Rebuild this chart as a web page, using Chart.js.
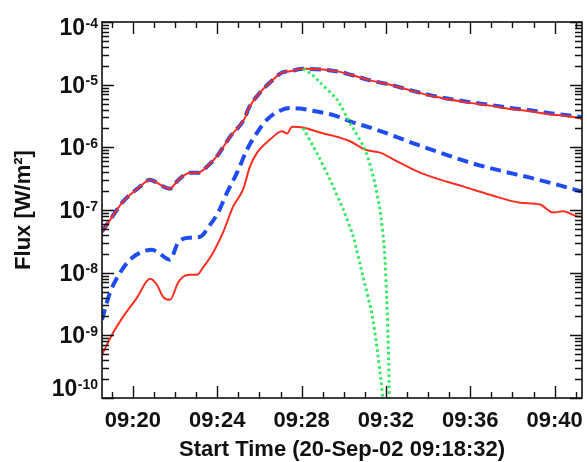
<!DOCTYPE html>
<html>
<head>
<meta charset="utf-8">
<title>Flux</title>
<script src="https://cdn.jsdelivr.net/npm/chart.js@4.4.1/dist/chart.umd.min.js"></script>
<style>
  html, body { margin: 0; padding: 0; background: #ffffff; }
  #c { display: block; }
</style>
</head>
<body>
<canvas id="c" width="587" height="462"></canvas>
<script>
// Time in minutes after 09:00 UT, flux in W/m^2.

// 1-8 A channel, observed
const tLongObs = [18.53, 18.91, 19.53, 20.34, 20.81, 20.95, 21.76, 22.04, 22.33, 22.71, 23.09, 23.51, 24.04, 24.61, 25.32, 25.46, 26.03, 26.50, 27.07, 27.45, 28.07, 29.02, 29.82, 30.30, 31.25, 32.20, 33.14, 34.09, 35.04, 35.99, 36.94, 37.89, 38.84, 39.79, 40.40, 41.30];
const fLongObs = [4.5e-8, 6.9e-8, 1.36e-7, 2.36e-7, 3.05e-7, 2.94e-7, 2.19e-7, 2.73e-7, 3.4e-7, 3.94e-7, 3.94e-7, 4.92e-7, 7.64e-7, 1.48e-6, 2.98e-6, 4.0e-6, 7.48e-6, 1.08e-5, 1.56e-5, 1.64e-5, 1.79e-5, 1.74e-5, 1.60e-5, 1.45e-5, 1.17e-5, 1.00e-5, 8.14e-6, 6.70e-6, 5.78e-6, 5.12e-6, 4.63e-6, 4.10e-6, 3.76e-6, 3.33e-6, 3.21e-6, 2.87e-6];

// 1-8 A channel, model
const tLongMod = [18.53, 18.91, 19.53, 20.34, 20.81, 20.95, 21.76, 22.04, 22.33, 22.71, 23.09, 23.51, 24.04, 24.61, 25.32, 25.46, 26.03, 26.50, 27.07, 27.45, 28.07, 29.02, 29.82, 30.30, 31.25, 32.20, 33.14, 34.09, 35.04, 35.99, 36.94, 37.89, 38.84, 39.79, 40.40, 41.30];
const fLongMod = [4.5e-8, 6.9e-8, 1.36e-7, 2.36e-7, 3.05e-7, 2.94e-7, 2.19e-7, 2.73e-7, 3.4e-7, 3.94e-7, 3.94e-7, 4.92e-7, 7.64e-7, 1.48e-6, 2.98e-6, 4.0e-6, 7.48e-6, 1.08e-5, 1.56e-5, 1.64e-5, 1.79e-5, 1.74e-5, 1.60e-5, 1.45e-5, 1.17e-5, 1.00e-5, 8.2e-6, 6.8e-6, 5.9e-6, 5.25e-6, 4.75e-6, 4.25e-6, 3.9e-6, 3.5e-6, 3.32e-6, 3.02e-6];

// 0.5-4 A channel, observed
const tShortObs = [18.53, 19.06, 19.53, 20.19, 20.81, 21.14, 21.43, 21.76, 22.14, 22.38, 22.71, 23.04, 23.32, 23.80, 24.27, 24.75, 25.22, 25.55, 25.89, 26.50, 27.07, 27.31, 27.55, 28.07, 28.88, 29.82, 30.30, 31.01, 31.72, 32.53, 33.48, 34.57, 35.66, 36.94, 38.36, 39.31, 39.93, 40.40, 41.07, 41.30];
const fShortObs = [4.88e-10, 1.10e-9, 1.97e-9, 3.97e-9, 8.0e-9, 6.41e-9, 4.12e-9, 3.69e-9, 6.90e-9, 8.61e-9, 9.25e-9, 9.25e-9, 1.20e-8, 2.08e-8, 4.34e-8, 1.13e-7, 2.11e-7, 4.92e-7, 8.22e-7, 1.33e-6, 1.80e-6, 1.66e-6, 2.14e-6, 2.07e-6, 1.72e-6, 1.43e-6, 1.25e-6, 9.19e-7, 8.22e-7, 5.97e-7, 4.14e-7, 3.05e-7, 2.38e-7, 1.75e-7, 1.31e-7, 1.22e-7, 9.16e-8, 9.51e-8, 7.91e-8, 7.82e-8];

// 0.5-4 A channel, model
const tShortMod = [18.53, 18.91, 19.39, 19.86, 20.34, 20.91, 21.14, 21.76, 22.14, 22.71, 23.18, 23.66, 24.04, 24.46, 24.94, 25.41, 25.89, 26.36, 26.88, 27.45, 27.93, 28.73, 29.59, 30.30, 31.25, 32.20, 33.48, 34.57, 35.99, 37.56, 38.84, 40.12, 41.30];
const fShortMod = [1.77e-9, 4.77e-9, 9.96e-9, 1.61e-8, 2.08e-8, 2.32e-8, 2.16e-8, 1.61e-8, 3.01e-8, 3.61e-8, 3.74e-8, 5.82e-8, 9.05e-8, 1.89e-7, 3.94e-7, 9.19e-7, 1.72e-6, 2.77e-6, 3.72e-6, 4.26e-6, 4.15e-6, 3.72e-6, 3.21e-6, 2.60e-6, 2.06e-6, 1.60e-6, 1.10e-6, 8.22e-7, 5.70e-7, 4.14e-7, 3.28e-7, 2.54e-7, 1.96e-7];

// Decay fits from the peak
const tLongDecay = [28.07, 28.50, 28.88, 29.68, 30.30, 31.01, 31.40, 31.72, 31.93, 32.04, 32.12, 32.16, 32.18];
const fLongDecay = [1.79e-5, 1.45e-5, 1.08e-5, 5.78e-6, 2.45e-6, 9.19e-7, 3.44e-7, 1.01e-7, 2.32e-8, 3.69e-9, 5.86e-10, 1.04e-10, 5e-11];
const tShortDecay = [28.07, 28.72, 29.35, 29.98, 30.45, 30.91, 31.33, 31.57, 31.76, 31.85, 31.87];
const fShortDecay = [2.04e-6, 8.15e-7, 3.05e-7, 1.01e-7, 3.79e-8, 8.69e-9, 2.26e-9, 6.62e-10, 1.95e-10, 1.0e-10, 5e-11];

// Axis range and tick labels
const xStart = 18 + 32 / 60;   // 09:18:32
const xEnd = 41.3;
const xMajorTicks = [20, 24, 28, 32, 36, 40];
const xTickLabels = ['09:20', '09:24', '09:28', '09:32', '09:36', '09:40'];
const yDecades = [-4, -5, -6, -7, -8, -9, -10];
const yMin = 1e-10, yMax = 1e-4;

const toPts = (ts, fs) => ts.map((t, i) => ({ x: t, y: fs[i] }));

const RED = '#ff2d1f';
const BLUE = '#1f4cf5';
const GREEN = '#33ea63';
const LABEL_FONT = '"Liberation Sans", Arial, Helvetica, sans-serif';

// Box, inward ticks on all four sides and tick labels with exponents
const frame = {
  id: 'frame',
  afterDraw(chart) {
    const { ctx, chartArea: a, scales: { x, y } } = chart;
    ctx.save();
    ctx.strokeStyle = '#111';
    ctx.lineWidth = 1.6;
    ctx.strokeRect(a.left, a.top, a.right - a.left, a.bottom - a.top);

    ctx.lineWidth = 1.4;
    ctx.beginPath();
    // time ticks: every minute, longer every four minutes
    for (let m = Math.ceil(xStart); m <= xEnd; m++) {
      const px = Math.round(x.getPixelForValue(m)) + 0.5;
      const len = xMajorTicks.includes(m) ? 12 : 6;
      ctx.moveTo(px, a.bottom); ctx.lineTo(px, a.bottom - len);
      ctx.moveTo(px, a.top); ctx.lineTo(px, a.top + len);
    }
    // flux ticks: decades long, 2..9 short
    for (let d = -10; d <= -4; d++) {
      for (let k = 1; k <= 9; k++) {
        const v = k * Math.pow(10, d);
        if (v < yMin * 0.999 || v > yMax * 1.001) continue;
        const py = Math.round(y.getPixelForValue(v)) + 0.5;
        const len = k === 1 ? 12 : 7;
        ctx.moveTo(a.left, py); ctx.lineTo(a.left + len, py);
        ctx.moveTo(a.right, py); ctx.lineTo(a.right - len, py);
      }
    }
    ctx.stroke();

    ctx.fillStyle = '#111';
    // time labels
    ctx.font = 'bold 22px ' + LABEL_FONT;
    ctx.textAlign = 'center';
    ctx.textBaseline = 'alphabetic';
    xMajorTicks.forEach((m, i) => {
      ctx.fillText(xTickLabels[i], x.getPixelForValue(m), a.bottom + 29);
    });
    // flux labels 10^n
    const rightEdge = a.left - 4;
    yDecades.forEach(d => {
      const py = y.getPixelForValue(Math.pow(10, d));
      const cy = Math.min(Math.max(py, a.top + 5), a.bottom - 10);
      const exp = String(d);
      ctx.font = 'bold 14px ' + LABEL_FONT;
      const ew = ctx.measureText(exp).width;
      ctx.textAlign = 'left';
      ctx.fillText(exp, rightEdge - ew, cy + 0.5);
      ctx.font = 'bold 23px ' + LABEL_FONT;
      ctx.textAlign = 'right';
      ctx.fillText('10', rightEdge - ew - 0.5, cy + 8);
    });
    ctx.restore();
  }
};

const lineDefaults = { pointRadius: 0, fill: false, cubicInterpolationMode: 'monotone' };
const dotted = { borderColor: GREEN, borderWidth: 3, borderDash: [2.6, 3.0], order: 0, pointRadius: 0, fill: false, tension: 0.2 };

new Chart(document.getElementById('c'), {
  type: 'line',
  data: {
    datasets: [
      { label: 'long decay', data: toPts(tLongDecay, fLongDecay), ...dotted },
      { label: 'short decay', data: toPts(tShortDecay, fShortDecay), ...dotted },
      { label: 'long obs', data: toPts(tLongObs, fLongObs), borderColor: RED, borderWidth: 2, order: 1, ...lineDefaults },
      { label: 'short obs', data: toPts(tShortObs, fShortObs), borderColor: RED, borderWidth: 2, order: 1, ...lineDefaults },
      { label: 'long model', data: toPts(tLongMod, fLongMod), borderColor: BLUE, borderWidth: 4, borderDash: [11, 6], order: 2, ...lineDefaults },
      { label: 'short model', data: toPts(tShortMod, fShortMod), borderColor: BLUE, borderWidth: 4, borderDash: [11, 6], order: 2, ...lineDefaults }
    ]
  },
  options: {
    responsive: false,
    animation: false,
    events: [],
    layout: { padding: { left: 0, top: 22, right: 5, bottom: 0 } },
    plugins: { legend: { display: false }, tooltip: { enabled: false } },
    scales: {
      x: {
        type: 'linear',
        min: xStart,
        max: xEnd,
        grid: { display: false },
        border: { display: false },
        ticks: { display: false },
        title: {
          display: true,
          text: 'Start Time (20-Sep-02 09:18:32)',
          color: '#111',
          font: { family: LABEL_FONT, size: 22, weight: 'bold', lineHeight: 1 },
          padding: { top: 0, bottom: 1 }
        },
        afterFit: s => { s.height = 64; }
      },
      y: {
        type: 'logarithmic',
        min: yMin,
        max: yMax,
        grid: { display: false },
        border: { display: false },
        ticks: { display: false },
        title: {
          display: true,
          text: 'Flux [W/m²]',
          color: '#111',
          font: { family: LABEL_FONT, size: 22, weight: 'bold', lineHeight: 1 },
          padding: { top: 13, bottom: 0 }
        },
        afterFit: s => { s.width = 102; }
      }
    }
  },
  plugins: [frame]
});
</script>
</body>
</html>
